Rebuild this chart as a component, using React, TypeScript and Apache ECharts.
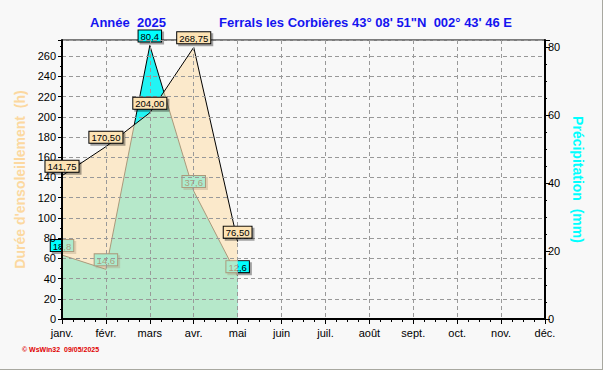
import React, { useEffect, useRef } from "react";
import * as echarts from "echarts";

const months = ["janv.", "févr.", "mars", "avr.", "mai", "juin", "juil.", "août", "sept.", "oct.", "nov.", "déc."];
const sunshine: (number | null)[] = [141.75, 170.5, 204.0, 268.75, 76.5, null, null, null, null, null, null, null];
const precipitation: (number | null)[] = [18.8, 14.6, 80.4, 37.6, 12.6, null, null, null, null, null, null, null];
const titleYear = "Année  2025";
const titleStation = "Ferrals les Corbières 43° 08' 51\"N  002° 43' 46 E";
const leftAxisName = "Durée d'ensoleillement  (h)";
const rightAxisName = "Précipitation  (mm)";
const footer = "© WsWin32  09/05/2025";

const fmt2 = (v: number) => v.toFixed(2).replace(".", ",");
const fmt1 = (v: number) => v.toFixed(1).replace(".", ",");

export default function App() {
  const ref = useRef<HTMLDivElement>(null);
  useEffect(() => {
    document.body.style.margin = "0";
    const chart = echarts.init(ref.current!, null, { renderer: "svg" });
    const font = "Liberation Sans, Arial, sans-serif";
    const labelBox = {
      show: true,
      position: "top",
      distance: 4,
      fontFamily: font,
      fontSize: 9.5,
      color: "#000",
      borderColor: "#000",
      borderWidth: 1,
      padding: [1, 2, 0, 2],
      shadowColor: "rgba(0,0,0,0.35)",
      shadowOffsetX: 2,
      shadowOffsetY: 2,
      shadowBlur: 0,
    };
    const gridLine = { show: true, lineStyle: { color: "#999999", type: [4, 3], width: 1 } };
    chart.setOption({
      animation: false,
      backgroundColor: "#F8F8F8",
      textStyle: { fontFamily: font },
      grid: {
        left: 62,
        right: 57,
        top: 40,
        bottom: 50,
        show: true,
        backgroundColor: "#F8F8F8",
        borderColor: "#000",
        borderWidth: 1,
      },
      graphic: [
        {
          type: "text",
          left: 90,
          top: 16,
          style: { text: titleYear, fill: "#1414F0", font: "bold 13px " + font },
        },
        {
          type: "text",
          left: 219,
          top: 16,
          style: { text: titleStation, fill: "#1414F0", font: "bold 13px " + font },
        },
        {
          type: "text",
          left: 22,
          top: 346,
          style: { text: footer, fill: "#E00000", font: "bold 7px " + font },
        },
      ],
      xAxis: [
        {
          type: "category",
          data: months,
          boundaryGap: false,
          z: 4,
          axisLine: { show: true, lineStyle: { color: "#000", width: 2 } },
          axisTick: { show: true, length: 5, lineStyle: { color: "#000" } },
          axisLabel: { color: "#000", fontSize: 11, margin: 8, fontFamily: font },
          splitLine: gridLine,
        },
        {
          type: "value",
          min: 0,
          max: 11,
          interval: 1,
          position: "bottom",
          z: 4,
          axisLine: { show: false },
          axisLabel: { show: false },
          axisTick: { show: false },
          splitLine: { show: false },
          minorTick: { show: true, splitNumber: 4, length: 3, lineStyle: { color: "#000" } },
        },
      ],
      yAxis: [
        {
          type: "value",
          min: 0,
          max: 276,
          interval: 20,
          position: "left",
          z: 4,
          name: leftAxisName,
          nameLocation: "middle",
          nameGap: 28,
          nameRotate: 90,
          nameTextStyle: { color: "#FCD8A0", fontSize: 14, fontWeight: "bold", fontFamily: font },
          axisLine: { show: true, lineStyle: { color: "#000", width: 2 } },
          axisTick: { show: true, length: 4, lineStyle: { color: "#000" } },
          minorTick: { show: true, splitNumber: 2, length: 2, lineStyle: { color: "#000" } },
          axisLabel: { color: "#000", fontSize: 11, margin: 6, showMaxLabel: false, fontFamily: font },
          splitLine: gridLine,
        },
        {
          type: "value",
          min: 0,
          max: 82,
          interval: 20,
          position: "right",
          z: 4,
          name: rightAxisName,
          nameLocation: "middle",
          nameGap: 24,
          nameRotate: -90,
          nameTextStyle: { color: "#00FFFF", fontSize: 14, fontWeight: "bold", fontFamily: font },
          axisLine: { show: true, lineStyle: { color: "#000", width: 2 } },
          axisTick: { show: true, length: 5, lineStyle: { color: "#000" } },
          minorTick: { show: true, splitNumber: 4, length: 2, lineStyle: { color: "#000" } },
          axisLabel: { color: "#000", fontSize: 11, margin: 3, showMaxLabel: false, fontFamily: font },
          splitLine: { show: false },
        },
      ],
      series: [
        {
          type: "line",
          name: "precip",
          yAxisIndex: 1,
          data: precipitation,
          z: 1,
          symbol: "circle",
          symbolSize: 0,
          showSymbol: true,
          lineStyle: { color: "#000", width: 1 },
          itemStyle: { color: "#000" },
          areaStyle: { color: "#22F4F4", opacity: 1 },
          label: {
            ...labelBox,
            backgroundColor: "#00FFFF",
            formatter: (p: any) => fmt1(p.value),
          },
        },
        {
          type: "line",
          name: "sun",
          yAxisIndex: 0,
          data: sunshine,
          z: 2,
          symbol: "none",
          lineStyle: { color: "#000", width: 1 },
          areaStyle: { color: "rgb(252,226,182)", opacity: 0.68 },
        },
        {
          type: "line",
          name: "sunLabels",
          yAxisIndex: 0,
          data: sunshine,
          z: 6,
          symbol: "circle",
          symbolSize: 0,
          showSymbol: true,
          lineStyle: { opacity: 0 },
          itemStyle: { color: "#000" },
          label: {
            ...labelBox,
            backgroundColor: "#FDE3B4",
            formatter: (p: any) => fmt2(p.value),
          },
        },
      ],
    });
    return () => chart.dispose();
  }, []);
  return (
    <div
      ref={ref}
      style={{
        width: 603,
        height: 370,
        boxSizing: "border-box",
        borderRight: "1px solid #A8A8A0",
        borderBottom: "1px solid #A8A8A0",
      }}
    />
  );
}
